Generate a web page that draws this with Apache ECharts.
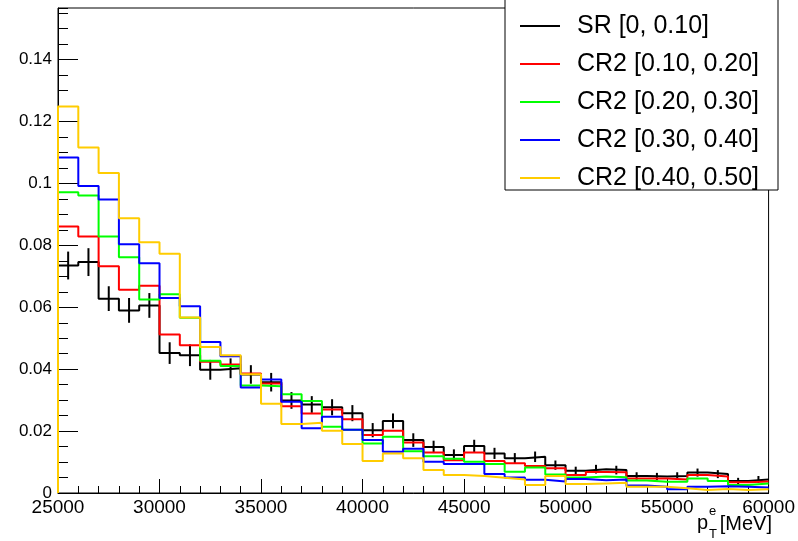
<!DOCTYPE html>
<html><head><meta charset="utf-8">
<script src="https://cdn.jsdelivr.net/npm/echarts@6/dist/echarts.min.js"></script>
<style>html,body{margin:0;padding:0;background:#fff}#c{width:798px;height:541px}</style>
</head><body><div id="c"></div>
<script>
// Bin lower edges (MeV), bin width 1000
const binLow = [25000,26000,27000,28000,29000,30000,31000,32000,33000,34000,35000,36000,37000,38000,39000,40000,41000,42000,43000,44000,45000,46000,47000,48000,49000,50000,51000,52000,53000,54000,55000,56000,57000,58000,59000];
const binHigh = 60000;

const seriesNames = ['SR [0, 0.10]','CR2 [0.10, 0.20]','CR2 [0.20, 0.30]','CR2 [0.30, 0.40]','CR2 [0.40, 0.50]'];

const srValues = [0.0735,0.0746,0.0628,0.0590,0.0606,0.0452,0.0445,0.0398,0.0403,0.0383,0.0358,0.0299,0.0286,0.0277,0.0258,0.0203,0.0233,0.0171,0.0149,0.0123,0.0152,0.0128,0.0112,0.0117,0.0090,0.0072,0.0077,0.0074,0.0055,0.0053,0.0055,0.0066,0.0061,0.0039,0.0044];
const srErrors = [0.0045,0.0045,0.0040,0.0040,0.0040,0.0035,0.0035,0.0032,0.0032,0.0030,0.0030,0.0027,0.0027,0.0026,0.0026,0.0023,0.0024,0.0022,0.0020,0.0018,0.0020,0.0018,0.0017,0.0017,0.0015,0.0013,0.0014,0.0014,0.0012,0.0012,0.0012,0.0013,0.0013,0.0010,0.0011];
const cr2aValues = [0.0861,0.0829,0.0733,0.0657,0.0670,0.0512,0.0477,0.0424,0.0415,0.0386,0.0354,0.0280,0.0257,0.0270,0.0238,0.0187,0.0201,0.0163,0.0131,0.0106,0.0131,0.0103,0.0096,0.0087,0.0080,0.0058,0.0068,0.0067,0.0047,0.0047,0.0044,0.0058,0.0053,0.0035,0.0037];
const cr2bValues = [0.0972,0.0961,0.0829,0.0762,0.0625,0.0642,0.0566,0.0427,0.0410,0.0347,0.0345,0.0319,0.0297,0.0214,0.0204,0.0160,0.0182,0.0135,0.0119,0.0111,0.0101,0.0094,0.0069,0.0082,0.0060,0.0050,0.0053,0.0051,0.0040,0.0036,0.0036,0.0047,0.0039,0.0026,0.0031];
const cr2cValues = [0.1084,0.0992,0.0948,0.0804,0.0742,0.0630,0.0603,0.0488,0.0442,0.0341,0.0367,0.0295,0.0209,0.0246,0.0204,0.0171,0.0133,0.0143,0.0101,0.0094,0.0094,0.0061,0.0050,0.0043,0.0037,0.0045,0.0041,0.0044,0.0024,0.0020,0.0012,0.0020,0.0022,0.0020,0.0018];
const cr2dValues = [0.1249,0.1116,0.1034,0.0888,0.0810,0.0773,0.0567,0.0472,0.0445,0.0384,0.0288,0.0223,0.0227,0.0201,0.0158,0.0103,0.0128,0.0112,0.0074,0.0058,0.0055,0.0049,0.0044,0.0026,0.0055,0.0029,0.0031,0.0033,0.0020,0.0020,0.0015,0.0010,0.0013,0.0010,0.0012];

const colors = ['#000000','#ff0000','#00ff00','#0000ff','#ffcc00'];
const FONT = "'Liberation Sans', Arial, Helvetica, sans-serif";

function stepData(vals){
  const d = [[binLow[0], 0]];
  for (let i = 0; i < vals.length; i++) d.push([binLow[i], vals[i]]);
  d.push([binHigh, vals[vals.length-1]]);
  return d;
}

const allVals = [srValues, cr2aValues, cr2bValues, cr2cValues, cr2dValues];
const series = allVals.map((v, i) => ({
  name: seriesNames[i], type: 'line', step: 'end', data: stepData(v),
  xAxisIndex: 0, yAxisIndex: 0,
  symbol: 'none', showSymbol: false, animation: false, z: 2 + i,
  lineStyle: { color: colors[i], width: 2 }, itemStyle: { color: colors[i] }
}));

const errData = binLow.map((x, i) => [x + 500, srValues[i], srErrors[i]]);
series.push({
  name: 'SR errors', type: 'custom', data: errData, animation: false, z: 2,
  xAxisIndex: 0, yAxisIndex: 0,
  renderItem: function(params, api){
    const x = api.value(0), y = api.value(1), e = api.value(2);
    const p1 = api.coord([x, y - e]), p2 = api.coord([x, y + e]);
    return { type: 'line', shape: { x1: p1[0], y1: p1[1], x2: p2[0], y2: p2[1] },
             style: { stroke: '#000', lineWidth: 2 } };
  }
});

const YMAX = 0.1567;
const chart = echarts.init(document.getElementById('c'), null, {renderer: 'canvas'});
chart.setOption({
  animation: false,
  backgroundColor: '#ffffff',
  grid: { left: 58, right: 25, top: 8, bottom: 48, show: true, borderColor: '#000', borderWidth: 1, backgroundColor: 'transparent' },
  xAxis: [{
    type: 'value', min: 25000, max: 60000, interval: 5000,
    axisLine: { show: true, onZero: false, lineStyle: { color: '#000', width: 1 } },
    axisTick: { show: true, inside: true, length: 14, lineStyle: { color: '#000', width: 1 } },
    minorTick: { show: true, splitNumber: 5, length: 7, lineStyle: { color: '#000', width: 1 } },
    splitLine: { show: false }, minorSplitLine: { show: false },
    axisLabel: { color: '#000', fontSize: 19, fontFamily: FONT, margin: 5, formatter: v => String(v) }
  }],
  yAxis: [{
    type: 'value', min: 0, max: YMAX, interval: 0.02,
    axisLine: { show: true, lineStyle: { color: '#000', width: 1 } },
    axisTick: { show: true, inside: true, length: 20, lineStyle: { color: '#000', width: 1 } },
    splitLine: { show: false },
    axisLabel: { color: '#000', fontSize: 17, fontFamily: FONT, margin: 6, showMaxLabel: false,
      formatter: v => String(parseFloat(v.toFixed(4))) }
  }, {
    type: 'value', min: 0, max: YMAX, interval: 0.005, position: 'left',
    axisLine: { show: false },
    axisTick: { show: true, inside: true, length: 10, lineStyle: { color: '#000', width: 1 } },
    axisLabel: { show: false }, splitLine: { show: false }
  }],
  legend: {
    data: seriesNames, orient: 'vertical', left: 515, top: 8, itemGap: 12,
    icon: 'rect', itemWidth: 40, itemHeight: 2, z: 60,
    textStyle: { color: '#000', fontSize: 25, fontFamily: FONT, lineHeight: 26, padding: [0,0,0,12] }
  },
  graphic: [
    { type: 'rect', z: 50, shape: { x: 505, y: -1, width: 273, height: 191 },
      style: { fill: '#fff', stroke: '#000', lineWidth: 1 } },
    { type: 'text', z: 50, style: { text: 'p', x: 697, y: 523, font: '20px ' + FONT, fill: '#000', verticalAlign: 'middle' } },
    { type: 'text', z: 50, style: { text: 'e', x: 709, y: 511, font: '13px ' + FONT, fill: '#000', verticalAlign: 'middle' } },
    { type: 'text', z: 50, style: { text: 'T', x: 709, y: 534, font: '13px ' + FONT, fill: '#000', verticalAlign: 'middle' } },
    { type: 'text', z: 50, style: { text: '[MeV]', x: 772, y: 524, font: '20px ' + FONT, fill: '#000', align: 'right', verticalAlign: 'middle' } }
  ],
  series: series
});
</script></body></html>
